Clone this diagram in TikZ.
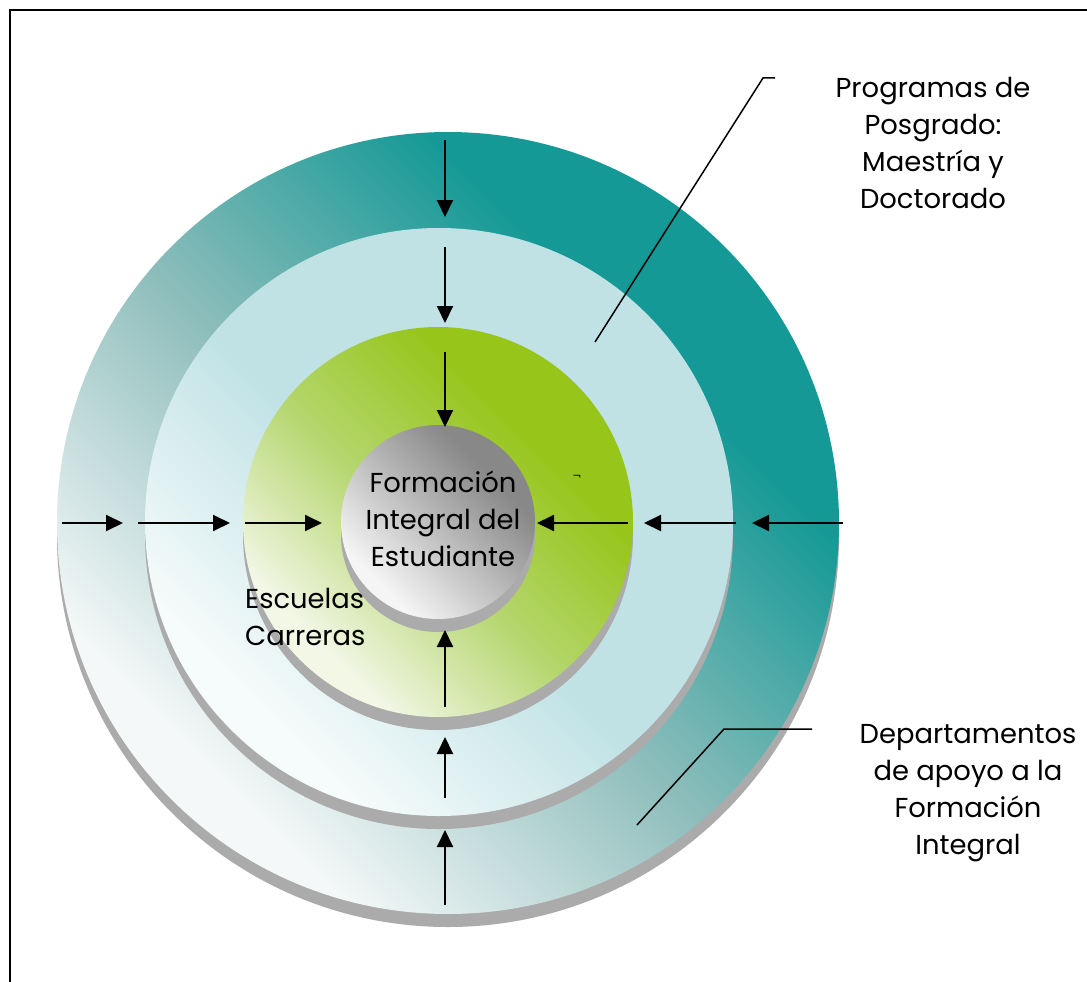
\documentclass[tikz,border=0pt]{standalone}
\usepackage{fontspec}
\setmainfont{Poppins}
\usepackage{tikz}
\usetikzlibrary{arrows.meta}

\definecolor{tealdark}{HTML}{149996}
\definecolor{tealmid}{HTML}{8DBDBB}
\definecolor{tealpale}{HTML}{F4F8F8}
\definecolor{bluelight}{HTML}{C0E2E5}
\definecolor{bluepale}{HTML}{F6FBFB}
\definecolor{greendark}{HTML}{97C51A}
\definecolor{greenmid}{HTML}{B5D66E}
\definecolor{greenpale}{HTML}{F2F7E6}
\definecolor{coredark}{HTML}{888888}
\definecolor{coremid}{HTML}{B8B8B8}
\definecolor{corepale}{HTML}{F5F5F5}
\definecolor{shadowgray}{HTML}{ABABAB}

\pgfdeclareverticalshading{tealshade}{100bp}{color(0bp)=(tealpale); color(28bp)=(tealpale); color(48bp)=(tealmid); color(67bp)=(tealdark); color(100bp)=(tealdark)}
\pgfdeclareverticalshading{blueshade}{100bp}{color(0bp)=(bluepale); color(28bp)=(bluepale); color(48bp)=(bluelight); color(100bp)=(bluelight)}
\pgfdeclareverticalshading{greenshade}{100bp}{color(0bp)=(greenpale); color(28bp)=(greenpale); color(47bp)=(greenmid); color(66bp)=(greendark); color(100bp)=(greendark)}
\pgfdeclareverticalshading{coreshade}{100bp}{color(0bp)=(corepale); color(28bp)=(corepale); color(50bp)=(coremid); color(68bp)=(coredark); color(100bp)=(coredark)}

\tikzset{
  disk/.style={circle, inner sep=0, draw=none, minimum size=#1},
  ring/.style={shading=#1, shading angle=-45},
  shadowdisk/.style={circle, inner sep=0, draw=none, fill=shadowgray, minimum size=#1},
  flow/.style={line width=2pt, -{Triangle[length=17pt,width=16pt]}},
  leader/.style={line width=1.5pt},
  label/.style={align=center, inner sep=0, font=\fontsize{27.4}{37}\selectfont}
}

\begin{document}
\begin{tikzpicture}[x=1pt,y=-1pt]
  \useasboundingbox (0,0) rectangle (1087,982);
  \clip (0,0) rectangle (1087,982);
  \fill[white] (0,0) rectangle (1087,982);
  % frame
  \draw[line width=2pt] (10,10) rectangle (1130,1030);

  % disks with shadows
  \node[shadowdisk=782] (outershadow) at (448,536) {};
  \node[disk=782, ring=tealshade] (outer) at (448,523) {};
  \node[shadowdisk=588] (midshadow) at (439,535) {};
  \node[disk=588, ring=blueshade] (mid) at (439,522) {};
  \node[shadowdisk=390] (innershadow) at (438,535) {};
  \node[disk=390, ring=greenshade] (inner) at (438,522) {};
  \node[shadowdisk=194] (coreshadow) at (438,535) {};
  \node[disk=194, ring=coreshade] (core) at (438,522) {};

  % arrow ends
  \coordinate (t1) at (445,140); \coordinate (t1e) at (445,217);
  \coordinate (t2) at (445,247); \coordinate (t2e) at (445,323);
  \coordinate (t3) at (445,352); \coordinate (t3e) at (445,427);
  \coordinate (b1) at (445,905); \coordinate (b1e) at (445,830);
  \coordinate (b2) at (445,798); \coordinate (b2e) at (445,737);
  \coordinate (b3) at (445,707); \coordinate (b3e) at (445,630);
  \coordinate (l1) at (62,523);  \coordinate (l1e) at (123,523);
  \coordinate (l2) at (138,523); \coordinate (l2e) at (230,523);
  \coordinate (l3) at (245,523); \coordinate (l3e) at (322,523);
  \coordinate (r1) at (843,523); \coordinate (r1e) at (752,523);
  \coordinate (r2) at (736,523); \coordinate (r2e) at (644,523);
  \coordinate (r3) at (628,523); \coordinate (r3e) at (537,523);
  \foreach \a in {t1,t2,t3,b1,b2,b3,l1,l2,l3,r1,r2,r3}
    \draw[flow] (\a) -- (\a e);

  % labels
  \node[label] (core text) at (443,519) {Formación\\Integral del\\Estudiante};
  \node[label, align=left, anchor=west] (schools) at (245,617) {Escuelas\\Carreras};
  \node[label] (prog) at (933,143) {Programas de\\Posgrado:\\Maestría y\\Doctorado};
  \node[label] (dept) at (968,793) {Departamentos\\de apoyo a la\\Formación\\Integral};
  \node[inner sep=0, font=\fontsize{12}{12}\selectfont] (mark) at (577,478) {¬};

  % leader lines
  \coordinate (progfoot) at (595,342);
  \coordinate (progknee) at (763,78);
  \coordinate (progend) at (775,78);
  \draw[leader] (progfoot) -- (progknee) -- (progend);
  \coordinate (deptfoot) at (637,825);
  \coordinate (deptknee) at (724,729);
  \coordinate (deptend) at (812,729);
  \draw[leader] (deptfoot) -- (deptknee) -- (deptend);
\end{tikzpicture}
\end{document}
